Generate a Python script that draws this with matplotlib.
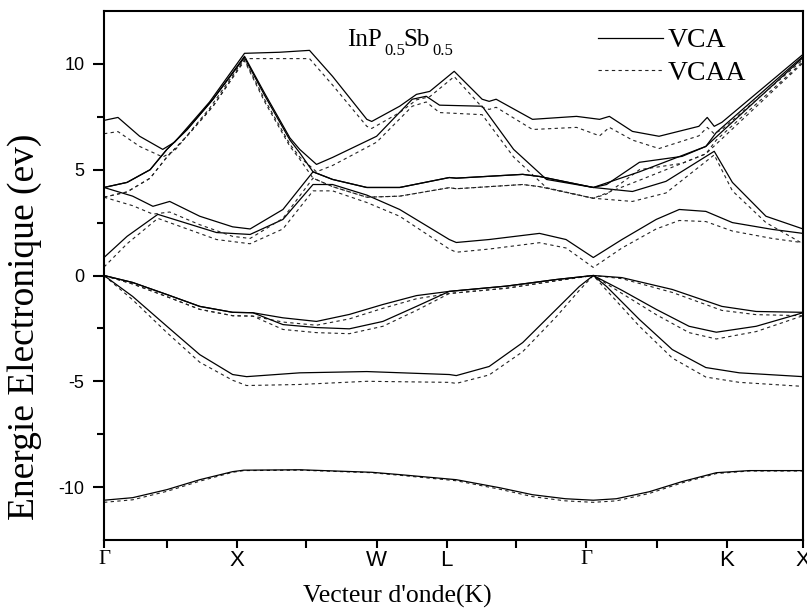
import matplotlib
matplotlib.use('Agg')
import matplotlib.pyplot as plt

plt.rcParams['axes.unicode_minus'] = False

SERIF = 'Liberation Serif'
SANS = 'Liberation Sans'

# high-symmetry path labels and the unlabelled ticks between them
tick_pos = [0, 0.9, 1.9, 2.89, 3.9, 4.9, 5.9, 6.9, 7.91, 8.91, 10]
tick_lbl = ['Γ', '', 'X', '', 'W', 'L', '', 'Γ', '', 'K', 'X']

# --- valence bands -------------------------------------------------------
k_s = [0, 0.41, 0.9, 1.37, 1.84, 2.0, 2.8, 3.83, 4.23, 5.04, 5.66, 6.13, 6.6, 7.0, 7.33, 7.8, 8.27, 8.76, 9.23, 10]
s_vca = [-10.62, -10.5, -10.12, -9.65, -9.27, -9.2, -9.18, -9.3, -9.41, -9.65, -10.03, -10.36, -10.55, -10.62, -10.55, -10.22, -9.74, -9.32, -9.22, -9.22]
s_vcaa = [-10.72, -10.6, -10.2, -9.72, -9.3, -9.22, -9.2, -9.32, -9.44, -9.7, -10.1, -10.45, -10.65, -10.72, -10.65, -10.3, -9.8, -9.36, -9.24, -9.24]

k_v1 = [0, 0.41, 0.9, 1.37, 1.84, 2.04, 2.8, 3.76, 4.94, 5.04, 5.51, 5.99, 6.47, 6.8, 7.0, 7.19, 7.66, 8.13, 8.61, 9.09, 10]
v1_vca = [0, -0.99, -2.4, -3.74, -4.68, -4.78, -4.6, -4.54, -4.68, -4.73, -4.3, -3.17, -1.6, -0.52, 0, -0.52, -2.08, -3.5, -4.35, -4.6, -4.78]
v1_vcaa = [0, -1.15, -2.7, -4.1, -4.95, -5.2, -5.15, -5.0, -5.05, -5.1, -4.7, -3.6, -1.95, -0.7, 0, -0.7, -2.4, -3.9, -4.8, -5.05, -5.24]

k_v2 = [0, 0.41, 0.9, 1.37, 1.84, 2.13, 2.56, 3.04, 3.51, 3.99, 4.47, 4.94, 5.76, 6.47, 7.0, 7.41, 8.13, 8.84, 9.33, 10]
v2_vca = [0, -0.33, -0.9, -1.46, -1.74, -1.76, -2.0, -2.17, -1.84, -1.37, -0.95, -0.75, -0.5, -0.19, 0, -0.1, -0.66, -1.46, -1.7, -1.74]
v2_vcaa = [0, -0.4, -1.0, -1.6, -1.9, -1.92, -2.2, -2.35, -2.05, -1.55, -1.1, -0.85, -0.6, -0.25, 0, -0.15, -0.8, -1.65, -1.85, -1.9]

k_v3 = [0, 0.41, 0.9, 1.37, 1.84, 2.13, 2.56, 3.04, 3.51, 3.99, 4.47, 4.94, 5.76, 6.47, 7.0, 7.41, 7.9, 8.37, 8.76, 9.33, 10]
v3_vca = [0, -0.33, -0.9, -1.46, -1.74, -1.76, -2.32, -2.46, -2.52, -2.17, -1.46, -0.75, -0.5, -0.19, 0, -0.7, -1.6, -2.4, -2.68, -2.4, -1.76]
v3_vcaa = [0, -0.4, -1.0, -1.6, -1.9, -1.92, -2.55, -2.7, -2.75, -2.4, -1.65, -0.85, -0.6, -0.25, 0, -0.85, -1.85, -2.7, -3.0, -2.65, -1.9]

# --- conduction bands ----------------------------------------------------
k_c1 = [0, 0.33, 0.77, 1.61, 2.09, 2.56, 2.99, 3.27, 3.76, 4.23, 4.94, 5.04, 5.51, 6.23, 6.61, 7.0, 7.41, 7.9, 8.23, 8.61, 8.99, 9.56, 10]
c1_vca = [0.85, 1.85, 2.89, 2.03, 1.94, 2.65, 4.3, 4.3, 3.8, 3.12, 1.7, 1.56, 1.7, 1.99, 1.7, 0.85, 1.7, 2.65, 3.12, 3.03, 2.5, 2.18, 1.99]
c1_vcaa = [0.4, 1.5, 2.7, 1.7, 1.5, 2.2, 4.0, 4.0, 3.45, 2.8, 1.25, 1.1, 1.25, 1.55, 1.3, 0.38, 1.3, 2.2, 2.6, 2.55, 2.1, 1.75, 1.55]

k_c2 = [0, 0.41, 0.7, 0.94, 1.37, 1.84, 2.09, 2.56, 2.99, 3.27, 3.76, 4.23, 4.94, 5.04, 5.99, 6.23, 7.0, 7.56, 8.04, 8.73, 8.99, 9.47, 10]
c2_vca = [4.16, 3.75, 3.27, 3.5, 2.8, 2.3, 2.2, 3.12, 4.9, 4.54, 4.16, 4.16, 4.63, 4.6, 4.78, 4.68, 4.16, 3.97, 4.45, 5.87, 4.4, 2.8, 2.2]
c2_vcaa = [3.7, 3.3, 2.9, 3.0, 2.4, 1.85, 1.75, 2.7, 4.6, 4.2, 3.7, 3.75, 4.15, 4.1, 4.3, 4.2, 3.65, 3.5, 3.9, 5.7, 4.0, 2.5, 1.5]

k_c3 = [0, 0.33, 0.66, 0.9, 1.19, 1.56, 2.01, 2.3, 2.66, 2.8, 3.04, 3.27, 3.9, 4.41, 4.61, 4.8, 5.41, 5.86, 6.33, 7.0, 7.19, 7.66, 8.27, 8.61, 8.76, 10]
c3_vca = [4.16, 4.4, 5.0, 5.96, 6.9, 8.33, 10.36, 8.6, 6.5, 5.96, 5.25, 5.58, 6.58, 8.33, 8.47, 8.05, 8.0, 5.96, 4.54, 4.16, 4.3, 5.35, 5.63, 6.1, 6.76, 10.36]
c3_vcaa = [3.7, 3.95, 4.6, 5.6, 6.6, 8.0, 10.2, 8.3, 6.2, 5.6, 4.9, 5.2, 6.3, 8.0, 8.2, 7.7, 7.6, 5.6, 4.15, 3.65, 3.85, 5.0, 5.3, 5.75, 6.4, 10.1]

k_c4 = [0, 0.33, 0.66, 0.9, 1.19, 1.56, 2.01, 2.3, 2.66, 2.8, 2.99, 3.27, 3.76, 4.23, 4.94, 5.04, 5.99, 6.23, 7.0, 7.66, 8.61, 10]
c4_vca = [4.16, 4.4, 5.0, 5.96, 6.9, 8.33, 10.3, 8.5, 6.4, 5.8, 4.9, 4.54, 4.16, 4.16, 4.63, 4.6, 4.78, 4.68, 4.16, 4.9, 6.1, 10.3]
c4_vcaa = [3.7, 3.95, 4.6, 5.6, 6.6, 8.0, 10.15, 8.2, 6.1, 5.5, 4.6, 4.2, 3.7, 3.75, 4.15, 4.1, 4.3, 4.2, 3.65, 4.5, 5.75, 10.05]

k_c5 = [0, 0.2, 0.51, 0.84, 1.01, 1.51, 2.01, 2.51, 2.94, 3.27, 3.76, 3.83, 4.23, 4.47, 4.66, 5.01, 5.41, 5.51, 5.61, 6.13, 6.76, 7.09, 7.23, 7.56, 7.94, 8.51, 8.63, 8.73, 8.84, 10]
c5_vca = [7.33, 7.47, 6.58, 5.96, 6.3, 8.2, 10.5, 10.55, 10.64, 9.41, 7.38, 7.28, 8.0, 8.56, 8.7, 9.65, 8.33, 8.23, 8.33, 7.38, 7.52, 7.38, 7.52, 6.81, 6.58, 7.05, 7.47, 7.05, 7.24, 10.45]
c5_vcaa = [6.7, 6.8, 6.1, 5.6, 5.9, 7.9, 10.25, 10.25, 10.25, 9.0, 7.05, 6.95, 7.7, 8.3, 8.45, 9.4, 7.95, 7.85, 7.95, 6.9, 7.0, 6.6, 7.0, 6.4, 6.0, 6.6, 7.0, 6.7, 6.9, 10.2]

bands = [
    (k_s, s_vca, s_vcaa),
    (k_v1, v1_vca, v1_vcaa),
    (k_v2, v2_vca, v2_vcaa),
    (k_v3, v3_vca, v3_vcaa),
    (k_c1, c1_vca, c1_vcaa),
    (k_c2, c2_vca, c2_vcaa),
    (k_c3, c3_vca, c3_vcaa),
    (k_c4, c4_vca, c4_vcaa),
    (k_c5, c5_vca, c5_vcaa),
]

W, H = 807, 609
fig = plt.figure(figsize=(W / 100, H / 100), dpi=100)
ax = fig.add_axes([104 / W, 69 / H, 699 / W, 529 / H])

vcaa_style = dict(color='#222222', lw=0.8, ls=(0, (3, 3)))
for i, (k, e_vca, e_vcaa) in enumerate(bands):
    ax.plot(k, e_vcaa, label='VCAA' if i == 0 else None, **vcaa_style)
    ax.plot(k, e_vca, color='black', lw=0.9, label='VCA' if i == 0 else None)

ax.set_xlim(0, 10)
ax.set_ylim(-12.5, 12.5)

ax.set_yticks([-10, -5, 0, 5, 10])
ax.set_yticks([-7.5, -2.5, 2.5, 7.5], minor=True)
ax.tick_params(axis='y', which='major', direction='out', length=8, width=1.5, labelsize=13, pad=6)
ax.tick_params(axis='y', which='minor', direction='out', length=5, width=1.5)
for t in ax.get_yticklabels():
    t.set_fontfamily(SANS)

ax.set_xticks(tick_pos)
ax.set_xticklabels(tick_lbl)
ax.tick_params(axis='x', direction='out', length=6, width=1.5, pad=1)
for t in ax.get_xticklabels():
    if t.get_text() == 'Γ':
        t.set_fontfamily(SERIF)
        t.set_fontsize(15)
    else:
        t.set_fontfamily(SANS)
        t.set_fontsize(16)

for sp in ax.spines.values():
    sp.set_linewidth(1.5)

ax.set_ylabel('Energie Electronique (ev)', fontfamily=SERIF, fontsize=27)
ax.yaxis.set_label_coords(-0.089, 0.403)
ax.set_xlabel("Vecteur d'onde(K)", fontfamily=SERIF, fontsize=18.5)
ax.xaxis.set_label_coords(0.419, -0.085)

# compound name with lowered subscripts, placed piece by piece (pixel coords)
def put(px, py, s, size):
    fig.text(px / W, 1 - py / H, s, fontfamily=SERIF, fontsize=size, va='baseline', ha='left')

put(347, 46, 'InP', 18)
put(384, 55, '0.5', 12)
put(403, 46, 'Sb', 18)
put(432, 55, '0.5', 12)

handles, labels = ax.get_legend_handles_labels()
order = [labels.index('VCA'), labels.index('VCAA')]
ax.legend([handles[i] for i in order], [labels[i] for i in order],
          loc='upper left', bbox_to_anchor=((598 - 104) / 699, (540 - 28) / 529), frameon=False,
          prop={'family': SERIF, 'size': 20}, handlelength=2.35,
          handletextpad=0.15, labelspacing=0.25, borderpad=0, borderaxespad=0)

fig.savefig('out.png', dpi=100)
